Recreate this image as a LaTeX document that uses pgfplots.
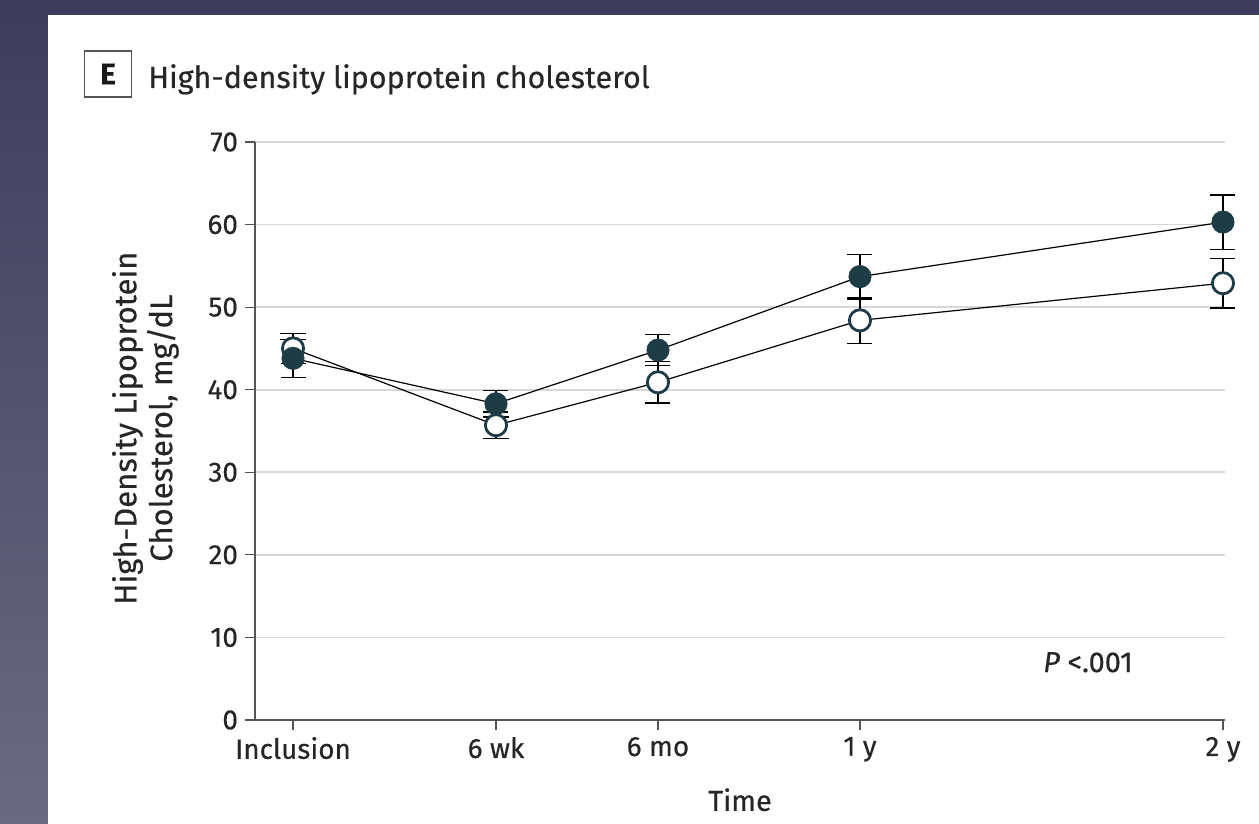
\documentclass[border=0pt]{standalone}
\usepackage{pgfplots}
\pgfplotsset{compat=1.18}
\usepackage{fontspec}
\setmainfont{Fira Sans}[FakeBold=0.4]
\definecolor{mk}{RGB}{30,60,70}
\definecolor{bgdark}{RGB}{62,61,94}
\definecolor{bglight}{RGB}{106,106,128}
\definecolor{gridc}{RGB}{215,215,215}
\definecolor{axc}{RGB}{85,85,85}
\begin{document}
\begin{tikzpicture}
\useasboundingbox (0,0) rectangle (629.5bp,412bp);
\fill[bgdark] (0,0) rectangle (629.5bp,412bp);
\shade[top color=bgdark, bottom color=bglight] (0,0) rectangle (24bp,404.5bp);
\fill[white] (24bp,0) rectangle (629.5bp,404.5bp);
\node[draw=axc, line width=0.7bp, minimum width=23.5bp, minimum height=23bp, inner sep=0pt, font=\fontsize{15}{17}\selectfont\bfseries, text=black!90] at (54bp,375bp) {E};
\node[anchor=base west, inner sep=0pt, font=\fontsize{15.3}{18}\selectfont, text=black!85] at (74bp,368bp) {High-density lipoprotein cholesterol};
\begin{axis}[
  at={(127.5bp,52bp)}, anchor=south west,
  scale only axis, width=485bp, height=289bp,
  xmin=255, xmax=1225, ymin=0, ymax=70,
  axis x line*=bottom, axis y line*=left,
  x axis line style={draw=axc, line width=1.1bp, -},
  y axis line style={draw=axc, line width=0.6bp, -},
  xtick={293,496,658,860,1223},
  xticklabels={Inclusion,6 wk,6 mo,1 y,2 y},
  ytick={0,10,...,70},
  tick align=outside, major tick length=5bp,
  tick style={draw=axc, line width=0.6bp},
  ymajorgrids, grid style={draw=gridc, line width=0.8bp},
  tick label style={font=\fontsize{14}{16}\selectfont, text=black!85},
  /pgf/number format/assume math mode=true,
  xlabel={Time},
  xlabel style={at={(axis description cs:0.5,-0.138)}, anchor=center, font=\fontsize{14.5}{17}\selectfont, text=black!85},
  ylabel={High-Density Lipoprotein\\Cholesterol, mg/dL},
  ylabel style={at={(axis description cs:-0.113,0.505)}, anchor=center, align=center, font=\fontsize{15.6}{18}\selectfont, text=black!85},
  clip=false,
]
% open series: error bars
\addplot[draw=none, forget plot, error bars/.cd, y dir=both, y explicit,
  error bar style={black, line width=0.7bp},
  error mark options={black, line width=0.7bp, mark size=6.25bp, rotate=90}]
  table[x=x, y=y, y error=e] {
x y e
293 45.0 1.8
496 35.7 1.6
658 40.9 2.5
860 48.4 2.8
1223 52.9 3.0
};
% filled series: error bars
\addplot[draw=none, forget plot, error bars/.cd, y dir=both, y explicit,
  error bar style={black, line width=0.7bp},
  error mark options={black, line width=0.7bp, mark size=6.25bp, rotate=90}]
  table[x=x, y=y, y error=e] {
x y e
293 43.8 2.3
496 38.3 1.6
658 44.8 1.9
860 53.7 2.7
1223 60.3 3.3
};
% open series
\addplot[black, line width=0.6bp, mark=*, mark size=5.3bp,
  mark options={fill=white, draw=mk, line width=1.4bp}]
  table[x=x, y=y] {
x y
293 45.0
496 35.7
658 40.9
860 48.4
1223 52.9
};
% filled series
\addplot[black, line width=0.6bp, mark=*, mark size=5.6bp,
  mark options={fill=mk, draw=mk, line width=0.3bp}]
  table[x=x, y=y] {
x y
293 43.8
496 38.3
658 44.8
860 53.7
1223 60.3
};
\node[anchor=base, inner sep=0pt, font=\fontsize{14.5}{16}\selectfont, text=black!85] at (axis cs:1088,5.8) {\textit{P} <.001};
\end{axis}
\end{tikzpicture}
\end{document}
